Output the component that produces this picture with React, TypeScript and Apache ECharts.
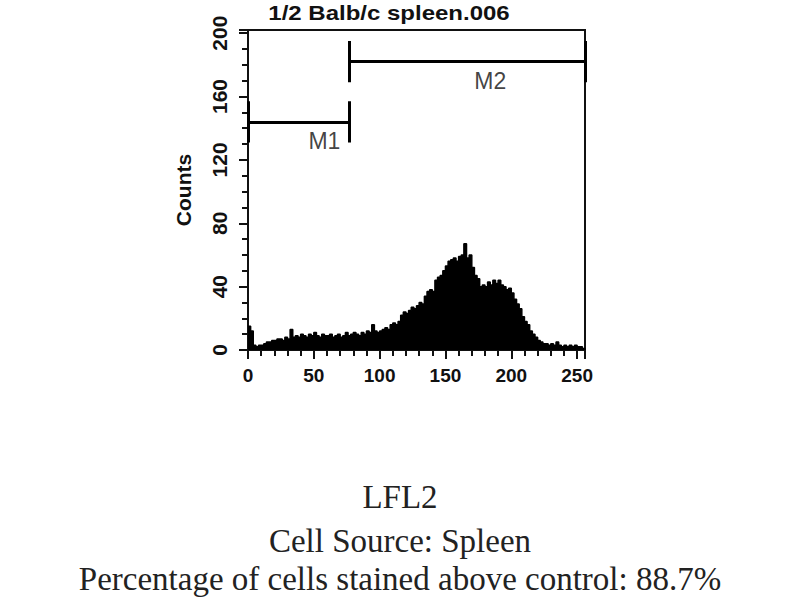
import React, { useEffect, useRef } from "react";
import * as echarts from "echarts";

// Histogram: bin start (channel) and counts (bin width 2)
const binStarts: number[] = [
  0, 2, 4, 6, 8, 10, 12, 14, 16, 18, 20, 22, 24, 26, 28, 30, 32, 34, 36, 38,
  40, 42, 44, 46, 48, 50, 52, 54, 56, 58, 60, 62, 64, 66, 68, 70, 72, 74, 76, 78,
  80, 82, 84, 86, 88, 90, 92, 94, 96, 98, 100, 102, 104, 106, 108, 110, 112, 114, 116, 118,
  120, 122, 124, 126, 128, 130, 132, 134, 136, 138, 140, 142, 144, 146, 148, 150, 152, 154, 156, 158,
  160, 162, 164, 166, 168, 170, 172, 174, 176, 178, 180, 182, 184, 186, 188, 190, 192, 194, 196, 198,
  200, 202, 204, 206, 208, 210, 212, 214, 216, 218, 220, 222, 224, 226, 228, 230, 232, 234, 236, 238,
  240, 242, 244, 246, 248, 250, 252, 254,
];
const counts: number[] = [
  15, 12, 3, 2, 3, 3, 4, 5, 5, 6, 6, 7, 7, 6, 8, 7, 13, 8, 9, 8,
  10, 9, 8, 10, 9, 11, 9, 8, 10, 9, 9, 10, 8, 9, 10, 8, 9, 11, 9, 10,
  11, 10, 9, 11, 10, 12, 11, 16, 12, 11, 12, 13, 14, 13, 16, 17, 16, 18, 22, 24,
  23, 25, 27, 26, 28, 30, 29, 34, 37, 38, 37, 44, 46, 47, 50, 53, 56, 57, 58, 56,
  59, 60, 67, 58, 60, 52, 47, 45, 40, 41, 40, 43, 41, 44, 42, 44, 41, 40, 38, 39,
  36, 32, 29, 26, 21, 18, 16, 12, 10, 8, 6, 5, 4, 4, 3, 4, 3, 5, 3, 2,
  3, 2, 3, 2, 3, 2, 2, 1,
];

// Region markers
const markerNames: string[] = ["M1", "M2"];
const markerStart: number[] = [0, 77];
const markerEnd: number[] = [77, 256];
const markerLevel: number[] = [144, 182];
const markerLabelX: number[] = [58, 184];
const markerLabelY: number[] = [132, 170];

const titleText = "1/2 Balb/c spleen.006";
const yAxisName = "Counts";
const captionLines: string[] = [
  "LFL2",
  "Cell Source: Spleen",
  "Percentage of cells stained above control: 88.7%",
];

export default function App() {
  const ref = useRef<HTMLDivElement>(null);
  useEffect(() => {
    if (!ref.current) return;
    const chart = echarts.init(ref.current, undefined, { renderer: "svg" });
    const histData: number[][] = binStarts.map((b, i) => [b, counts[i]]);
    histData.push([256, 0]);

    const half = 13;
    const segs: any[] = [];
    markerNames.forEach((_, i) => {
      const s = markerStart[i];
      const e = markerEnd[i];
      const l = markerLevel[i];
      segs.push({ coords: [[s, l - half], [s, l + half]] });
      segs.push({ coords: [[s, l], [e, l]] });
      segs.push({ coords: [[e, l - half], [e, l + half]] });
    });

    const sans = "Liberation Sans";
    const serif = "Liberation Serif";

    chart.setOption({
      animation: false,
      backgroundColor: "#ffffff",
      grid: {
        left: 248,
        right: 215,
        top: 30,
        bottom: 250,
        show: true,
        borderColor: "#111",
        borderWidth: 2,
        backgroundColor: "transparent",
      },
      xAxis: {
        type: "value",
        min: 0,
        max: 256,
        interval: 50,
        axisLine: { show: true, lineStyle: { color: "#111", width: 2 } },
        axisTick: { show: true, length: 9, lineStyle: { color: "#111", width: 2 } },
        minorTick: { show: true, splitNumber: 5, length: 6, lineStyle: { color: "#111", width: 2 } },
        splitLine: { show: false },
        minorSplitLine: { show: false },
        axisLabel: {
          showMaxLabel: false,
          fontSize: 19,
          fontFamily: sans,
          fontWeight: "bold",
          color: "#111",
          margin: 16,
        },
      },
      yAxis: {
        type: "value",
        min: 0,
        max: 202,
        interval: 40,
        name: yAxisName,
        nameLocation: "middle",
        nameRotate: 90,
        nameGap: 54,
        nameTextStyle: { fontSize: 21, fontFamily: sans, fontWeight: "bold", color: "#111" },
        axisLine: { show: true, lineStyle: { color: "#111", width: 2 } },
        axisTick: { show: true, length: 9, lineStyle: { color: "#111", width: 2 } },
        minorTick: { show: true, splitNumber: 4, length: 6, lineStyle: { color: "#111", width: 2 } },
        splitLine: { show: false },
        minorSplitLine: { show: false },
        axisLabel: {
          showMaxLabel: false,
          rotate: 90,
          fontSize: 21,
          fontFamily: sans,
          fontWeight: "bold",
          color: "#111",
          margin: 18,
        },
      },
      series: [
        {
          type: "line",
          data: histData,
          step: "end",
          symbol: "none",
          lineStyle: { color: "#000", width: 1.5 },
          areaStyle: { color: "#000", opacity: 1 },
          z: 2,
        },
        {
          type: "lines",
          coordinateSystem: "cartesian2d",
          data: segs,
          lineStyle: { color: "#000", width: 3, opacity: 1 },
          z: 3,
        },
        {
          type: "scatter",
          symbolSize: 0,
          data: markerNames.map((n, i) => ({ name: n, value: [markerLabelX[i], markerLabelY[i]] })),
          label: {
            show: true,
            position: "inside",
            formatter: (p: any) => p.name,
            fontSize: 23,
            fontFamily: sans,
            color: "#111",
          },
          z: 4,
        },
      ],
      graphic: [
        {
          type: "text",
          x: 389,
          y: 13,
          scaleX: 1.2,
          style: {
            text: titleText,
            fontSize: 20,
            fontFamily: sans,
            fontWeight: "bold",
            fill: "#111",
            textAlign: "center",
            textVerticalAlign: "middle",
          },
        },
        ...captionLines.map((t, i) => ({
          type: "text",
          x: 400,
          y: [497, 541, 579][i],
          style: {
            text: t,
            fontSize: 33,
            fontFamily: serif,
            fill: "#222",
            textAlign: "center",
            textVerticalAlign: "middle",
          },
        })),
      ],
    });
    return () => chart.dispose();
  }, []);
  return <div ref={ref} style={{ width: 800, height: 600, position: "absolute", left: 0, top: 0 }} />;
}
